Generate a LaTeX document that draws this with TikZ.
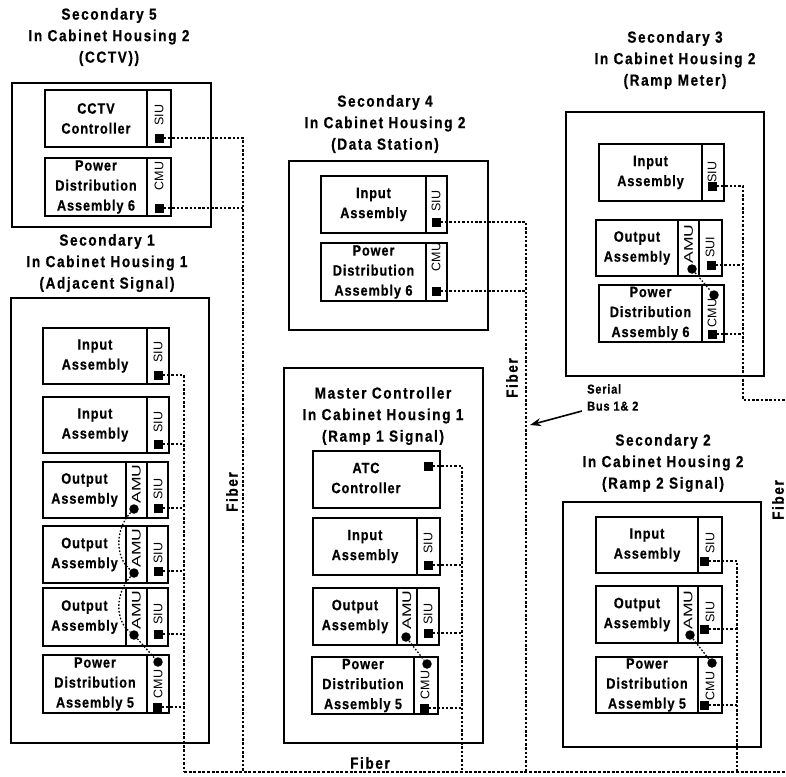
\documentclass[tikz,border=0pt]{standalone}
\usepackage{fontspec}
\setmainfont{Liberation Sans}
\newfontfamily\condf{Liberation Sans}[FakeStretch=0.85,LetterSpace=10,FakeBold=0.6]
\newfontfamily\condg{Liberation Sans}[FakeStretch=0.85,LetterSpace=6,FakeBold=0.6]
\usetikzlibrary{arrows.meta}
\newcommand\ttlfont{\condf\bfseries\fontsize{16}{21.5}\selectfont}
\newcommand\boxfont{\condg\bfseries\fontsize{15}{20}\selectfont}
\newcommand\stripfont{\fontsize{12.5}{12.5}\selectfont}
\newcommand\Asm[6]{%
  \draw[frame] (#1,#2) rectangle (#3,#4);
  \draw[frame] (#5,#2) -- (#5,#4);
  \node[lab] at ({(#1+#5)/2},{(#2+#4)/2}) {#6};}
\newcommand\Div[3]{\draw[frame] (#1,#2) -- (#1,#3);}
\newcommand\StripLbl[3]{\node[strip] at (#1,#2) {#3};}
\tikzset{
  frame/.style={draw, line width=1.7pt},
  ttl/.style={font=\ttlfont, align=center, inner sep=0pt},
  lab/.style={font=\boxfont, align=center, inner sep=0pt},
  strip/.style={font=\stripfont, rotate=90, inner sep=0pt},
  sq/.style={fill=black, minimum size=9pt, inner sep=0pt},
  bead/.style={circle, fill=black, minimum size=9.5pt, inner sep=0pt},
  fiber/.style={line width=2.7pt, dash pattern=on 2.5pt off 1.8pt},
  busline/.style={line width=1.4pt, dash pattern=on 3pt off 1.6pt},
  amuline/.style={line width=1.3pt, dash pattern=on 1.6pt off 1.8pt},
  fibtxt/.style={font=\ttlfont, inner sep=0pt},
}
\begin{document}
\begin{tikzpicture}[x=1pt,y=-1pt]
\clip (0,0) rectangle (786,776);
\useasboundingbox (0,0) rectangle (786,776);

% ================= Secondary 5 =================
\node[ttl] (t5) at (109,37) {Secondary 5\\In Cabinet Housing 2\\(CCTV))};
\draw[frame] (12,83) rectangle (211,227);
\Asm{45}{90}{171}{147}{147}{CCTV\\Controller}
\StripLbl{159}{115}{SIU}
\Asm{45}{158}{171}{216}{147}{Power\\Distribution\\Assembly 6}
\StripLbl{159}{176}{CMU}
\node[sq] (s5a) at (159,138) {};
\node[sq] (s5b) at (159,208) {};
\coordinate (j5a) at (243,138);
\coordinate (j5b) at (243,772);

% ================= Secondary 1 =================
\node[ttl] (t1) at (107,263) {Secondary 1\\In Cabinet Housing 1\\(Adjacent Signal)};
\draw[frame] (11,298) rectangle (209,743);
\Asm{43}{328}{169}{384}{147}{Input\\Assembly}
\StripLbl{158}{352}{SIU}
\Asm{43}{397}{169}{453}{147}{Input\\Assembly}
\StripLbl{158}{422}{SIU}
\Asm{43}{462}{168}{518}{126}{Output\\Assembly}
\Div{147}{462}{518}
\StripLbl{136.5}{484}{\scalebox{1.4}[1]{AMU}}
\StripLbl{158}{489}{SIU}
\Asm{43}{526}{168}{583}{126}{Output\\Assembly}
\Div{147}{526}{583}
\StripLbl{136.5}{548}{\scalebox{1.4}[1]{AMU}}
\StripLbl{158}{553}{SIU}
\Asm{43}{588}{168}{646}{126}{Output\\Assembly}
\Div{147}{588}{646}
\StripLbl{136.5}{610}{\scalebox{1.4}[1]{AMU}}
\StripLbl{158}{614}{SIU}
\Asm{43}{655}{169}{713}{147}{Power\\Distribution\\Assembly 5}
\StripLbl{158}{684}{CMU}
\node[sq] (s1a) at (158,375) {};
\node[sq] (s1b) at (158,444) {};
\node[sq] (s1c) at (158,508) {};
\node[sq] (s1d) at (158,571) {};
\node[sq] (s1e) at (158,634) {};
\node[sq] (s1f) at (157,707) {};
\node[bead] (a1a) at (134,509) {};
\node[bead] (a1b) at (134,573) {};
\node[bead] (a1c) at (134,635) {};
\node[bead] (c1) at (158,662) {};
\coordinate (j1a) at (184,375);
\coordinate (j1b) at (184,772);

% ================= Secondary 4 =================
\node[ttl] (t4) at (385,124) {Secondary 4\\In Cabinet Housing 2\\(Data Station)};
\draw[frame] (289,161) rectangle (488,330);
\Asm{321}{176}{447}{233}{426}{Input\\Assembly}
\StripLbl{436}{201}{SIU}
\Asm{321}{243}{447}{301}{426}{Power\\Distribution\\Assembly 6}
\StripLbl{436}{257}{CMU}
\node[sq] (s4a) at (436,222) {};
\node[sq] (s4b) at (436,291) {};
\coordinate (j4a) at (526,222);
\coordinate (j4b) at (526,772);

% ================= Master =================
\draw[frame] (284,368) rectangle (483,743);
\node[ttl] (tm) at (383,416) {Master Controller\\In Cabinet Housing 1\\(Ramp 1 Signal)};
\draw[frame] (313,451) rectangle (440,508);
\node[lab] (atc) at (366,478) {ATC\\Controller};
\Asm{313}{518}{440}{575}{417}{Input\\Assembly}
\StripLbl{428}{543}{SIU}
\Asm{313}{588}{439}{645}{397}{Output\\Assembly}
\Div{417}{588}{645}
\StripLbl{407}{610}{\scalebox{1.4}[1]{AMU}}
\StripLbl{428}{614}{SIU}
\Asm{312}{657}{438}{714}{414}{Power\\Distribution\\Assembly 5}
\StripLbl{425}{685}{CMU}
\node[sq] (m0) at (428,466) {};
\node[sq] (m1) at (428,565) {};
\node[sq] (m2) at (428,633) {};
\node[sq] (m3) at (424,708) {};
\node[bead] (ma) at (406,637) {};
\node[bead] (mc) at (427,664) {};
\coordinate (jma) at (462,466);
\coordinate (jmb) at (462,772);

% ================= Secondary 3 =================
\node[ttl] (t3) at (675,60) {Secondary 3\\In Cabinet Housing 2\\(Ramp Meter)};
\draw[frame] (566,112) rectangle (764,376);
\Asm{599}{144}{724}{201}{702}{Input\\Assembly}
\StripLbl{712}{172}{SIU}
\Asm{596}{220}{722}{276}{678}{Output\\Assembly}
\Div{699}{220}{276}
\StripLbl{688.5}{244}{\scalebox{1.4}[1]{AMU}}
\StripLbl{710}{247}{SUI}
\Asm{599}{285}{724}{342}{702}{Power\\Distribution\\Assembly 6}
\StripLbl{712}{313}{CMU}
\node[sq] (s3a) at (712,186) {};
\node[sq] (s3b) at (711,265) {};
\node[sq] (s3c) at (712,334) {};
\node[bead] (a3) at (692,269) {};
\node[bead] (c3) at (714,295) {};
\coordinate (j3a) at (743,186);
\coordinate (j3b) at (743,400);
\coordinate (j3c) at (786,400);

% ================= Secondary 2 =================
\node[ttl] (t2) at (663,463) {Secondary 2\\In Cabinet Housing 2\\(Ramp 2 Signal)};
\draw[frame] (563,502) rectangle (761,747);
\Asm{596}{517}{722}{573}{698}{Input\\Assembly}
\StripLbl{710}{543}{SIU}
\Asm{596}{586}{722}{643}{678}{Output\\Assembly}
\Div{698}{586}{643}
\StripLbl{688}{610}{\scalebox{1.4}[1]{AMU}}
\StripLbl{710}{612}{SIU}
\Asm{596}{657}{722}{713}{698}{Power\\Distribution\\Assembly 5}
\StripLbl{710}{686}{CMU}
\node[sq] (s2a) at (704,561) {};
\node[sq] (s2b) at (704,629) {};
\node[sq] (s2c) at (704,705) {};
\node[bead] (a2) at (690,635) {};
\node[bead] (c2) at (712,663) {};
\coordinate (j2a) at (737,561);
\coordinate (j2b) at (737,772);
\coordinate (jend) at (786,772);

% ================= Fiber runs =================
\draw[fiber] (s5a.east) -- (j5a) -- (j5b);
\draw[fiber] (s5b.east) -- (s5b.east -| j5a);
\draw[fiber] (s1a.east) -- (j1a) -- (j1b);
\foreach \n in {s1b,s1c,s1d,s1e,s1f}
  \draw[fiber] (\n.east) -- (\n.east -| j1a);
\draw[fiber] (s4a.east) -- (j4a) -- (j4b);
\draw[fiber] (s4b.east) -- (s4b.east -| j4a);
\draw[fiber] (m0.east) -- (jma) -- (jmb);
\foreach \n in {m1,m2,m3}
  \draw[fiber] (\n.east) -- (\n.east -| jma);
\draw[fiber] (s3a.east) -- (j3a) -- (j3b) -- (j3c);
\foreach \n in {s3b,s3c}
  \draw[fiber] (\n.east) -- (\n.east -| j3a);
\draw[fiber] (s2a.east) -- (j2a) -- (j2b);
\foreach \n in {s2b,s2c}
  \draw[fiber] (\n.east) -- (\n.east -| j2a);
\draw[busline] (j1b) -- (jend);

% AMU / CMU links
\draw[amuline] (a1a) .. controls (116,528) and (114,556) .. (a1b);
\draw[amuline] (a1b) .. controls (116,592) and (114,620) .. (a1c);
\draw[amuline] (a1c) -- (c1);
\draw[amuline] (ma) -- (mc);
\draw[amuline] (a3) -- (c3);
\draw[amuline] (a2) -- (c2);

% Labels
\node[fibtxt, rotate=90] (fl1) at (232,492) {Fiber};
\node[fibtxt, rotate=90] (fl2) at (512,378) {Fiber};
\node[fibtxt, rotate=90] (fl3) at (778,500) {Fiber};
\node[fibtxt] (fl4) at (370,763) {Fiber};
\node[font=\condg\bfseries\fontsize{13}{17}\selectfont, align=left, anchor=north west, inner sep=0pt] (sbus) at (587,384) {Serial\\Bus 1\& 2};
\coordinate (sbt) at (582,411);
\coordinate (sbh) at (530,425);
\draw[line width=1.6pt, -{Stealth[length=11pt,width=8pt]}] (sbt) -- (sbh);
\end{tikzpicture}
\end{document}
